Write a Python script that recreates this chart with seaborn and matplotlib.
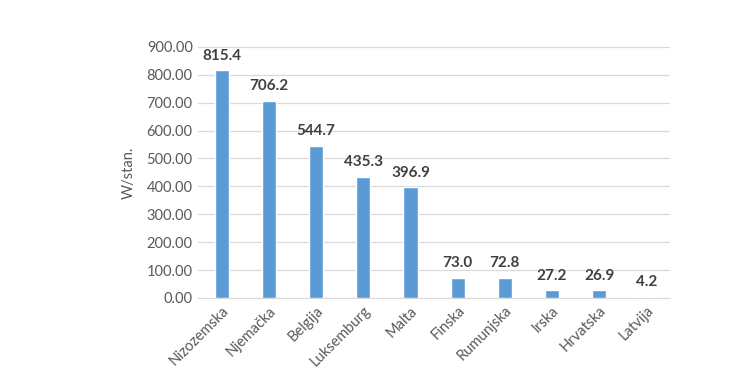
import matplotlib
matplotlib.use('Agg')
import matplotlib.pyplot as plt
import seaborn as sns
import pandas as pd

countries = ['Nizozemska', 'Njemačka', 'Belgija', 'Luksemburg', 'Malta',
             'Finska', 'Rumunjska', 'Irska', 'Hrvatska', 'Latvija']
values = [815.4, 706.2, 544.7, 435.3, 396.9, 73.0, 72.8, 27.2, 26.9, 4.2]
y_ticks = [0, 100, 200, 300, 400, 500, 600, 700, 800, 900]

sns.set_style('white')
plt.rcParams['font.family'] = ['Lato', 'DejaVu Sans']

df = pd.DataFrame({'country': countries, 'value': values})

fig = plt.figure(figsize=(7.51, 3.87), dpi=100)
ax = fig.add_axes([0.264, 0.23, 0.628, 0.649])

sns.barplot(data=df, x='country', y='value', color='#5B9BD5', width=0.3,
            saturation=1, ax=ax, zorder=3)

for i, v in enumerate(values):
    ax.text(i, v + 27, '%.1f' % v, ha='center', va='bottom',
            fontsize=11, fontweight='bold', color='#404040')

ax.set_ylim(0, 900)
ax.set_yticks(y_ticks)
ax.set_yticklabels(['%.2f' % t for t in y_ticks], fontsize=10.5, color='#595959')
ax.set_xticks(range(len(countries)))
ax.set_xticklabels(countries, rotation=45, ha='right', rotation_mode='anchor',
                   fontsize=10.5, color='#595959')
ax.set_xlim(-0.5, len(countries) - 0.5)
ax.grid(axis='y', color='#d9d9d9', linewidth=0.9, zorder=0)
ax.set_xlabel('')
ax.set_ylabel('W/stan.', fontsize=10.5, color='#595959', labelpad=8)
ax.tick_params(axis='both', length=0, pad=4)
for s in ['top', 'right', 'left']:
    ax.spines[s].set_visible(False)
ax.spines['bottom'].set_color('#d9d9d9')

fig.savefig('out.png', dpi=100)
